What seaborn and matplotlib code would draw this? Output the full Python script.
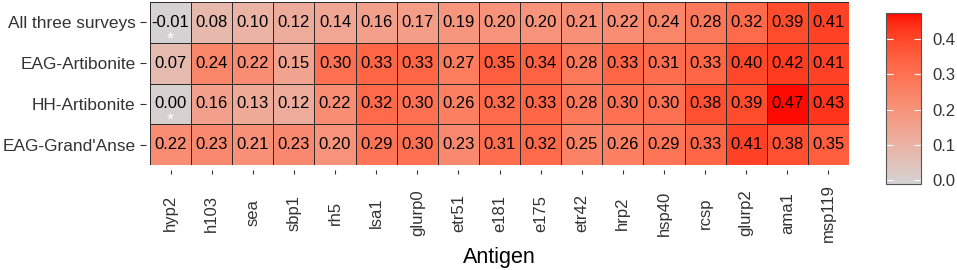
import numpy as np
import pandas as pd
import matplotlib
matplotlib.use("Agg")
import matplotlib.pyplot as plt
from matplotlib.colors import ListedColormap
import seaborn as sns

surveys = ["All three surveys", "EAG-Artibonite", "HH-Artibonite", "EAG-Grand'Anse"]
antigens = ["hyp2", "h103", "sea", "sbp1", "rh5", "lsa1", "glurp0", "etr51", "e181",
            "e175", "etr42", "hrp2", "hsp40", "rcsp", "glurp2", "ama1", "msp119"]

all_three = [-0.01, 0.08, 0.10, 0.12, 0.14, 0.16, 0.17, 0.19, 0.20, 0.20, 0.21, 0.22, 0.24, 0.28, 0.32, 0.39, 0.41]
eag_artibonite = [0.07, 0.24, 0.22, 0.15, 0.30, 0.33, 0.33, 0.27, 0.35, 0.34, 0.28, 0.33, 0.31, 0.33, 0.40, 0.42, 0.41]
hh_artibonite = [0.00, 0.16, 0.13, 0.12, 0.22, 0.32, 0.30, 0.26, 0.32, 0.33, 0.28, 0.30, 0.30, 0.38, 0.39, 0.47, 0.43]
eag_grandanse = [0.22, 0.23, 0.21, 0.23, 0.20, 0.29, 0.30, 0.23, 0.31, 0.32, 0.25, 0.26, 0.29, 0.33, 0.41, 0.38, 0.35]

# cells marked with a white asterisk
starred = [("All three surveys", "hyp2"), ("HH-Artibonite", "hyp2")]

df = pd.DataFrame([all_three, eag_artibonite, hh_artibonite, eag_grandanse],
                  index=surveys, columns=antigens)


# -----------------------------
# ggplot-like gradient (lightgrey -> red, in Lab space)
# -----------------------------
def srgb_to_lab(c):
    c = np.asarray(c, dtype=float)
    lin = np.where(c <= 0.04045, c / 12.92, ((c + 0.055) / 1.055) ** 2.4)
    m = np.array([[0.4124, 0.3576, 0.1805],
                  [0.2126, 0.7152, 0.0722],
                  [0.0193, 0.1192, 0.9505]])
    xyz = m @ lin / np.array([0.95047, 1.0, 1.08883])
    f = np.where(xyz > 0.008856, np.cbrt(xyz), 7.787 * xyz + 16 / 116)
    return np.array([116 * f[1] - 16, 500 * (f[0] - f[1]), 200 * (f[1] - f[2])])


def lab_to_srgb(lab):
    L, a, b = lab
    fy = (L + 16) / 116
    fx = fy + a / 500
    fz = fy - b / 200
    f = np.array([fx, fy, fz])
    xyz = np.where(f ** 3 > 0.008856, f ** 3, (f - 16 / 116) / 7.787)
    xyz = xyz * np.array([0.95047, 1.0, 1.08883])
    m = np.array([[3.2406, -1.5372, -0.4986],
                  [-0.9689, 1.8758, 0.0415],
                  [0.0557, -0.2040, 1.0570]])
    lin = m @ xyz
    c = np.where(lin <= 0.0031308, 12.92 * lin, 1.055 * np.clip(lin, 0, None) ** (1 / 2.4) - 0.055)
    return np.clip(c, 0, 1)


low = srgb_to_lab([211 / 255, 211 / 255, 211 / 255])
high = srgb_to_lab([1.0, 0.0, 0.0])
cmap = ListedColormap([lab_to_srgb(low + (high - low) * t) for t in np.linspace(0, 1, 256)])

annot = df.apply(lambda col: col.map(lambda v: f"{v:.2f}"))

plt.rcParams['font.family'] = ['Liberation Sans', 'DejaVu Sans']

fig = plt.figure(figsize=(9.57, 2.70), dpi=100)
ax = fig.add_axes([150 / 957, 1 - 165 / 270, 699 / 957, 163 / 270])
cax = fig.add_axes([886 / 957, 1 - 184 / 270, 35 / 957, 171 / 270])

sns.heatmap(
    df,
    cmap=cmap,
    vmin=-0.012,
    vmax=0.475,
    annot=annot,
    fmt="",
    annot_kws={"fontsize": 12, "color": "black"},
    linewidths=0.6,
    linecolor="#2b2b2b",
    cbar_ax=cax,
    ax=ax
)

for survey, antigen in starred:
    ax.text(antigens.index(antigen) + 0.5, surveys.index(survey) + 1.04, "*",
            ha="center", va="baseline", color="white", fontsize=13)

# ticks sit a few pixels away from the tiles, like ggplot
ax.spines["left"].set_position(("outward", 3))
ax.spines["bottom"].set_position(("outward", 3.6))

ax.set_ylabel("")
ax.tick_params(axis="x", rotation=90, labelsize=12, length=3, color="#333333",
               labelcolor="#333333", pad=28)
for lbl in ax.get_xticklabels():
    lbl.set_verticalalignment("center")
ax.tick_params(axis="y", rotation=0, labelsize=12.4, length=4.3, color="#333333",
               labelcolor="#333333", pad=3)

ax.set_xlabel("Antigen", fontsize=15.5)
ax.xaxis.set_label_coords(0.5, -0.50)
ax.xaxis.label.set_verticalalignment("top")

cbar = ax.collections[0].colorbar
cbar.set_ticks([0.0, 0.1, 0.2, 0.3, 0.4])
cbar.set_ticklabels(["0.0", "0.1", "0.2", "0.3", "0.4"])
cbar.outline.set_edgecolor("#555555")
cbar.outline.set_linewidth(0.8)
cax.tick_params(left=True, right=True, labelleft=False, labelright=True,
                direction="in", color="white", length=5, width=0.8,
                labelsize=12, labelcolor="#333333", pad=8)

fig.savefig("out.png", dpi=100)
plt.close()
